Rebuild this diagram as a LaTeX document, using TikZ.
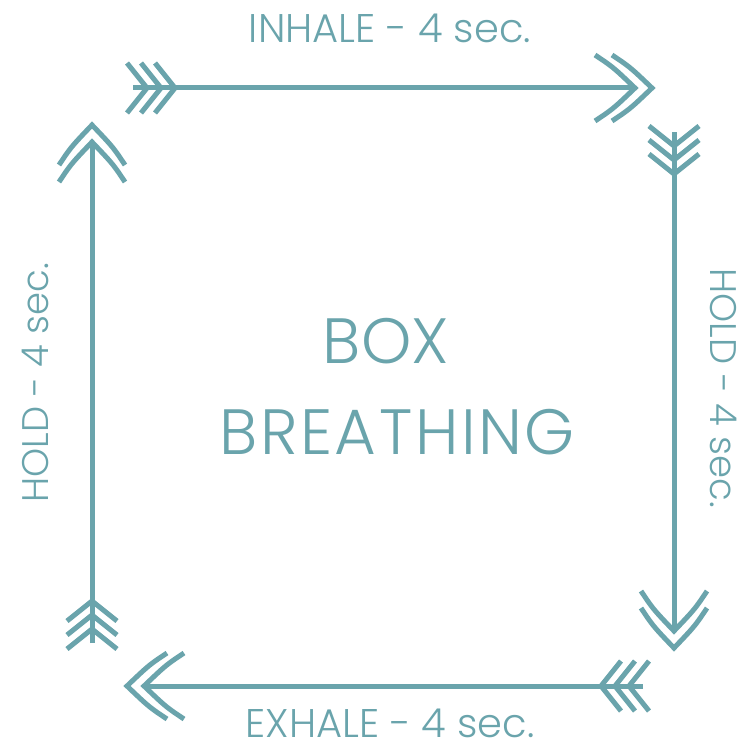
\documentclass[tikz,border=0pt]{standalone}
\usepackage{fontspec}
\newfontfamily\thinfont{Poppins Light}
\newfontfamily\thinwide{Poppins Light}[LetterSpace=4]
\definecolor{boxteal}{RGB}{106,164,172}
\tikzset{
  % three feathers at the tail, pointing the way of travel
  fletch/.pic={
    \foreach \d in {14,28,42}
      \draw[boxline,miter limit=10] (\d-20,25) -- (\d,0) -- (\d-20,-25);
  },
  % double head, slightly bowed
  dblhead/.pic={
    \foreach \d in {0,-17}
      \draw[boxline,miter limit=10] (\d-40,33) .. controls (\d-22,21) .. (\d,0)
        .. controls (\d-22,-21) .. (\d-40,-33);
  }
}
\begin{document}
\begin{tikzpicture}[x=1pt,y=-1pt,
  boxline/.style={line width=5pt,draw=boxteal},
  sidetext/.style={text=boxteal,inner sep=0pt,font=\thinfont\fontsize{40}{40}\selectfont},
  holdtext/.style={text=boxteal,inner sep=0pt,font=\thinfont\fontsize{37}{37}\selectfont},
  titletext/.style={text=boxteal,inner sep=0pt,font=\thinfont\fontsize{64}{64}\selectfont}]
  \useasboundingbox[fill=white] (0,0) rectangle (753,752);
  % Ends of the four sides
  \coordinate (inS) at (133,88);  \coordinate (inE) at (635,88);
  \coordinate (rhS) at (674,132); \coordinate (rhE) at (674,631);
  \coordinate (exS) at (643,686); \coordinate (exE) at (144,686);
  \coordinate (lhS) at (92,643);  \coordinate (lhE) at (92,142);
  % Inhale (top)
  \draw[boxline] (inS) -- (inE);
  \pic at (inS) {fletch};
  \pic at ([xshift=17pt]inE) {dblhead};
  % Hold (right)
  \draw[boxline] (rhS) -- (rhE);
  \pic[rotate=-90] at (rhS) {fletch};
  \pic[rotate=-90] at ([yshift=-17pt]rhE) {dblhead};
  % Exhale (bottom)
  \draw[boxline] (exS) -- (exE);
  \pic[rotate=180] at (exS) {fletch};
  \pic[rotate=180] at ([xshift=-17pt]exE) {dblhead};
  % Hold (left)
  \draw[boxline] (lhS) -- (lhE);
  \pic[rotate=90] at (lhS) {fletch};
  \pic[rotate=90] at ([yshift=17pt]lhE) {dblhead};
  % Labels
  \node[sidetext] (inhale) at (390,28) {INHALE - 4 sec.};
  \node[sidetext] (exhale) at (390,723) {EXHALE - 4 sec.};
  \node[holdtext,rotate=90] (holdL) at (35,383) {HOLD - 4 sec.};
  \node[holdtext,rotate=-90] (holdR) at (724,388) {HOLD - 4 sec.};
  \node[titletext] (box) at (386,341) {BOX};
  \node[titletext,font=\thinwide\fontsize{64}{64}\selectfont] (breathing) at (397,432) {BREATHING};
\end{tikzpicture}
\end{document}
